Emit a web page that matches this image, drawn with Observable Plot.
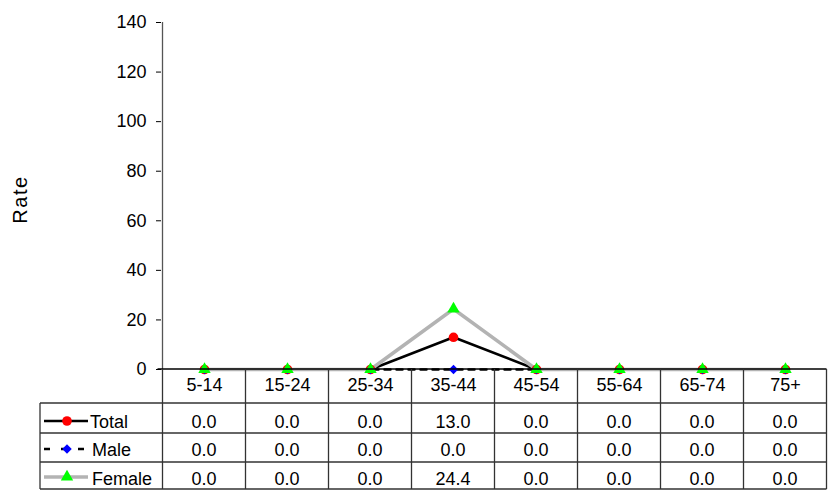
<!DOCTYPE html>
<html><head><meta charset="utf-8">
<script src="https://cdn.jsdelivr.net/npm/d3@7"></script>
<script src="https://cdn.jsdelivr.net/npm/@observablehq/plot@0.6"></script>
<style>
body{margin:0;background:#fff}
svg{display:block}
#chart svg text{font-family:"Liberation Sans", Arial, sans-serif; font-size:18px; fill:#000}
#chart svg text.ylab{font-size:20px; letter-spacing:1.5px}
</style>
</head><body><div id="chart"></div>
<script>
const categories = ["5-14","15-24","25-34","35-44","45-54","55-64","65-74","75+"];
const total = [0, 0, 0, 13.0, 0, 0, 0, 0];
const male = [0, 0, 0, 0, 0, 0, 0, 0];
const female = [0, 0, 0, 24.4, 0, 0, 0, 0];
const yTicks = [0, 20, 40, 60, 80, 100, 120, 140];
const seriesNames = ["Total", "Male", "Female"];
const yLabel = "Rate";

const rows = categories.map((c, i) => ({cat: c, total: total[i], male: male[i], female: female[i]}));
const font = "Liberation Sans, Arial, sans-serif";

const chart = Plot.plot({
  width: 828,
  height: 490,
  marginLeft: 161,
  marginRight: 1,
  marginTop: 22,
  marginBottom: 121,
  style: {fontFamily: font, background: "#fff", color: "#000"},
  x: {type: "point", domain: categories, padding: 0.5, axis: null},
  y: {domain: [0, 140], axis: null},
  marks: [
    Plot.axisY({ticks: yTicks, tickSize: 5, tickPadding: 10, label: null}),
    Plot.axisX({tickSize: 0, tickPadding: 9, label: null}),
    Plot.line(rows, {x: "cat", y: "total", stroke: "#000", strokeWidth: 2.5}),
    Plot.line(rows, {x: "cat", y: "male", stroke: "#000", strokeWidth: 2.5, strokeDasharray: "6,6"}),
    Plot.line(rows, {x: "cat", y: "female", stroke: "#b3b3b3", strokeWidth: 3.5}),
    Plot.dot(rows, {x: "cat", y: "total", r: 4.8, fill: "#ff0000", stroke: "none"}),
    Plot.dot(rows, {x: "cat", y: "male", r: 3.8, symbol: "square", rotate: 45, fill: "#0000ff", stroke: "none"}),
    Plot.dot(rows, {x: "cat", y: "female", r: 4.6, symbol: "triangle", fill: "#00ff00", stroke: "none"})
  ]
});
document.getElementById("chart").append(chart);

const svg = d3.select(chart);
const xs = chart.scale("x");
const ys = chart.scale("y");
const centers = categories.map(c => xs.apply(c));
const step = centers[1] - centers[0];
const left = centers[0] - step / 2;
const right = centers[centers.length - 1] + step / 2;
const y0 = ys.apply(0);
const yTop = ys.apply(140);

const g = svg.append("g");
// axes lines
g.append("line").attr("x1", left).attr("x2", left).attr("y1", yTop).attr("y2", y0).attr("stroke", "#555").attr("stroke-width", 1.3);
g.append("line").attr("x1", left - 5).attr("x2", right).attr("y1", y0).attr("y2", y0).attr("stroke", "#000").attr("stroke-width", 1.3);

// table geometry
const rowTops = [403, 433, 462];
const bottom = 489;
const tableLeft = 40;
for (let i = 0; i <= categories.length; i++) {
  const x = left + i * step;
  g.append("line").attr("x1", x).attr("x2", x).attr("y1", y0).attr("y2", bottom).attr("stroke", "#333").attr("stroke-width", 1.3);
}
[...rowTops, bottom].forEach(y => {
  g.append("line").attr("x1", tableLeft).attr("x2", right).attr("y1", y).attr("y2", y).attr("stroke", "#333").attr("stroke-width", 1.3);
});
g.append("line").attr("x1", tableLeft).attr("x2", tableLeft).attr("y1", rowTops[0]).attr("y2", bottom).attr("stroke", "#333").attr("stroke-width", 1.3);

const seriesVals = [total, male, female];
const baselines = [428, 456, 485];
seriesVals.forEach((vals, r) => {
  vals.forEach((v, i) => {
    g.append("text").attr("x", centers[i]).attr("y", baselines[r]).attr("text-anchor", "middle").text(v.toFixed(1));
  });
  g.append("text").attr("x", r === 0 ? 90 : 92).attr("y", baselines[r]).attr("text-anchor", "start").text(seriesNames[r]);
});

// legend keys
const ky = [421, 449, 477];
g.append("line").attr("x1", 44).attr("x2", 88).attr("y1", ky[0]).attr("y2", ky[0]).attr("stroke", "#000").attr("stroke-width", 2.5);
g.append("circle").attr("cx", 67).attr("cy", ky[0]).attr("r", 4.8).attr("fill", "#ff0000");
g.append("line").attr("x1", 44).attr("x2", 88).attr("y1", ky[1]).attr("y2", ky[1]).attr("stroke", "#000").attr("stroke-width", 2.5).attr("stroke-dasharray", "6,11");
g.append("path").attr("transform", `translate(67,${ky[1]}) rotate(45)`).attr("d", d3.symbol(d3.symbolSquare, 3.8 * 3.8 * Math.PI)()).attr("fill", "#0000ff");
g.append("line").attr("x1", 44).attr("x2", 88).attr("y1", ky[2]).attr("y2", ky[2]).attr("stroke", "#b3b3b3").attr("stroke-width", 3.5);
g.append("path").attr("transform", `translate(67,${ky[2]})`).attr("d", d3.symbol(d3.symbolTriangle, 4.6 * 4.6 * Math.PI)()).attr("fill", "#00ff00");

// y label
g.append("text").attr("class", "ylab").attr("transform", `translate(27,${(yTop + y0) / 2 + 4}) rotate(-90)`).attr("text-anchor", "middle").text(yLabel);
</script>
</body></html>
